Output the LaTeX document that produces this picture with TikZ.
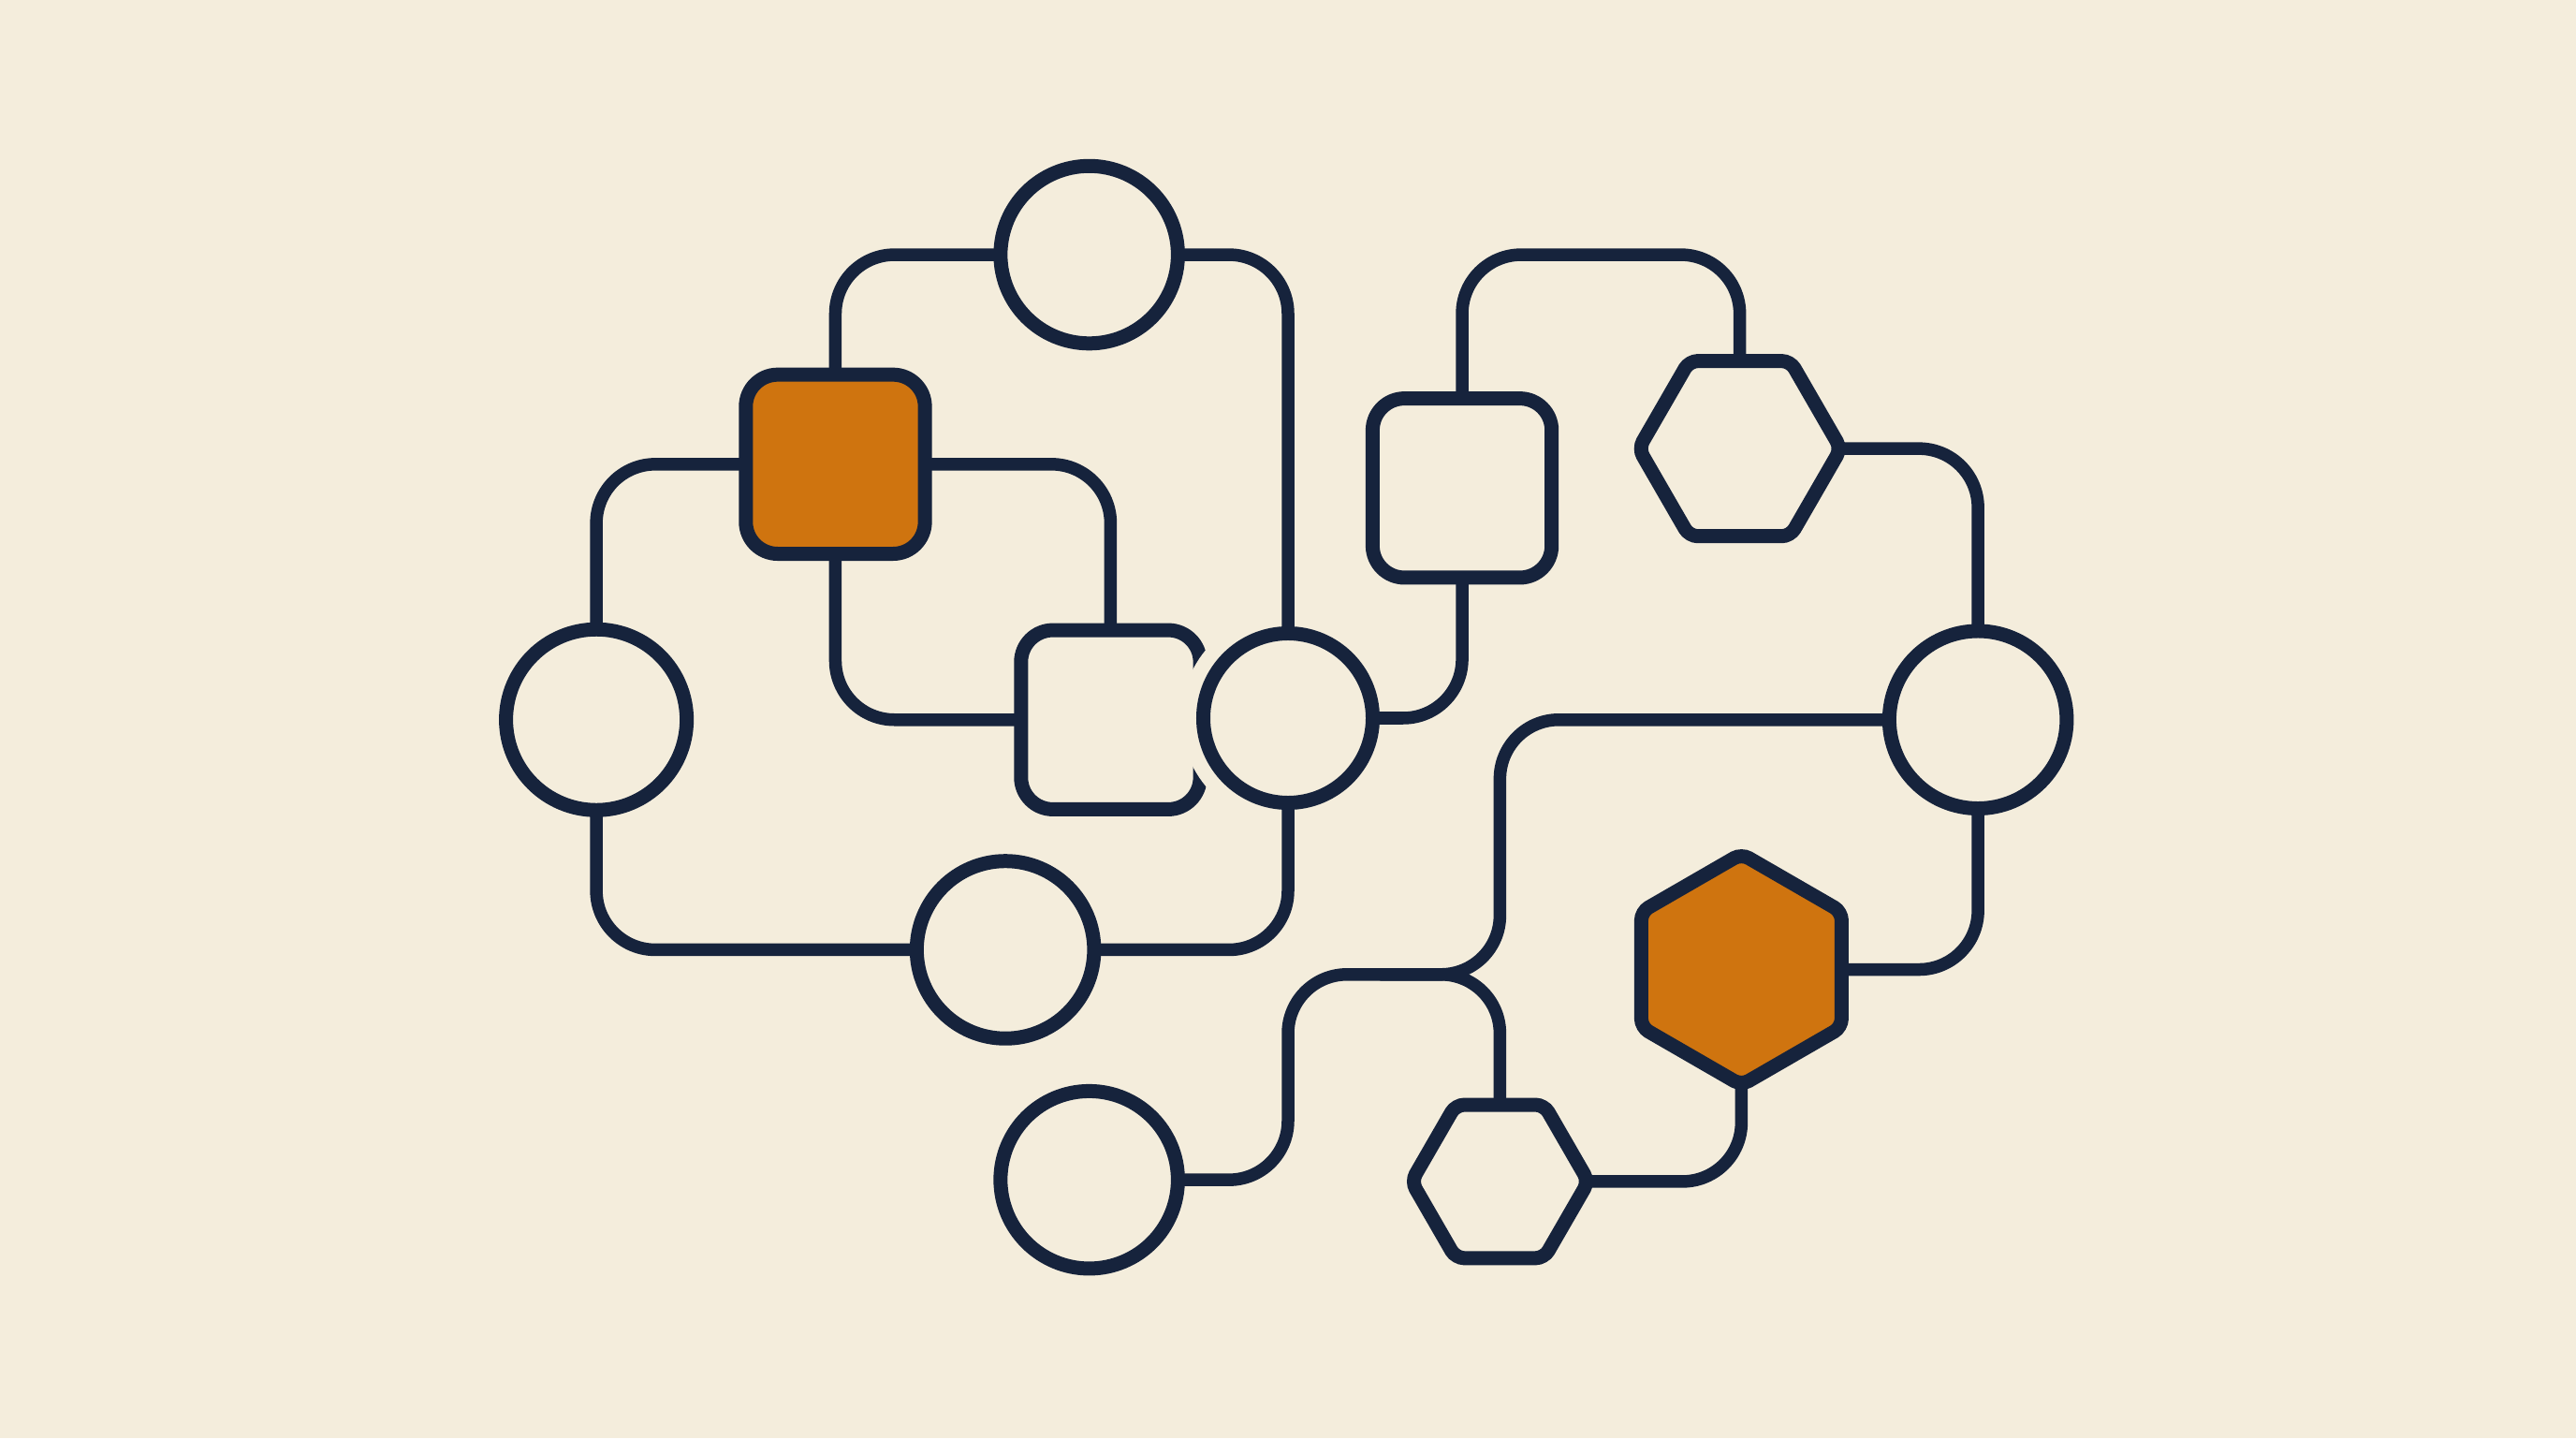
\documentclass[tikz,border=0pt]{standalone}
\usetikzlibrary{shapes.geometric}
\definecolor{bg}{HTML}{F4EDDC}
\definecolor{ink}{HTML}{16233C}
\definecolor{amber}{HTML}{CF740F}
\begin{document}
\begin{tikzpicture}[x=0.017551cm,y=-0.017551cm,
  shp/.style={draw=ink,line width=0.15cm,inner sep=0pt,outer sep=0pt,fill=bg},
  ring/.style={shp,circle,minimum size=#1},
  box/.style={shp,rectangle,rounded corners=0.34cm,minimum width=1.913cm,minimum height=1.913cm},
  hexa/.style={shp,regular polygon,regular polygon sides=6,rounded corners=0.09cm,minimum size=#1},
  link/.style={draw=ink,line width=0.135cm,rounded corners=0.63cm},
  hot/.style={fill=amber}]
\fill[bg] (0,0) rectangle (1568,875.2);
% partially hidden square next to the central circle
\node[box] (sq2) at (676,438) {};
\fill[bg] (784,437) circle[radius=65];
% circles
\node[ring=1.895cm] (c1) at (663,155) {};
\node[ring=1.93cm]  (c2) at (363,438) {};
\node[ring=1.81cm]  (c3) at (784,437) {};
\node[ring=1.895cm] (c4) at (612,578) {};
\node[ring=1.895cm] (c5) at (663,718) {};
\node[ring=1.895cm] (c6) at (1204,438) {};
% squares
\node[box,hot] (sqo) at (508.5,282.5) {};
\node[box] (sq3) at (890,297) {};
% hexagons
\node[hexa=2.16cm] (h1) at (1059,273) {};
\node[hexa=2.47cm,hot,regular polygon rotate=30] (h2) at (1060,590) {};
\node[hexa=1.89cm] (h3) at (913,719) {};
% waypoints
\coordinate (i1) at (1059,155);
\coordinate (j1) at (913,593);
\coordinate (j0) at (840,593);
\coordinate (k2) at (784,718);
% connectors
\draw[link] (c1.west) -| (sqo.north);
\draw[link] (c1.east) -| (c3.north);
\draw[link] (sqo.west) -| (c2.north);
\draw[link] (sqo.east) -| (sq2.north);
\draw[link] (sqo.south) |- (sq2.west);
\draw[link] (c2.south) |- (c4.west);
\draw[link] (c4.east) -| (c3.south);
\draw[link] (c3.east) -| (sq3.south);
\draw[link] (sq3.north) |- (i1) -- (h1.north);
\draw[link] (h1.east) -| (c6.north);
\draw[link] (c6.west) -| (j1) -| (k2) -- (c5.east);
\draw[link] (j0) -| (h3.north);
\draw[link] (c6.south) |- (h2.east);
\draw[link] (h2.south) |- (h3.east);
\end{tikzpicture}
\end{document}
